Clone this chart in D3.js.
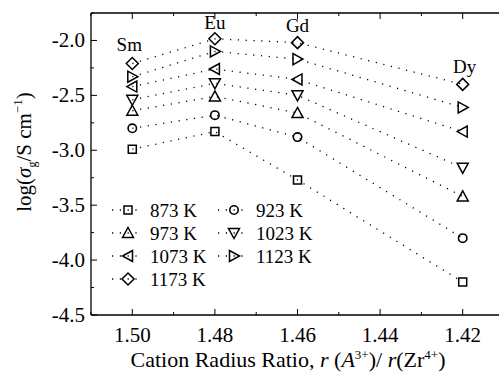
<!DOCTYPE html>
<html>
<head>
<meta charset="utf-8">
<script src="https://cdn.jsdelivr.net/npm/d3@7"></script>
<style>
  body { margin: 0; background: #fff; }
</style>
</head>
<body>
<div class="container"></div>
<script>
const ratios = [1.50, 1.48, 1.46, 1.42];
const cations = ["Sm", "Eu", "Gd", "Dy"];
const temps = ["873 K", "923 K", "973 K", "1023 K", "1073 K", "1123 K", "1173 K"];
const shapes = ["square", "circle", "up", "down", "left", "right", "diamond"];
const v873 = [-2.99, -2.83, -3.27, -4.20];
const v923 = [-2.80, -2.68, -2.88, -3.80];
const v973 = [-2.64, -2.51, -2.66, -3.42];
const v1023 = [-2.54, -2.39, -2.50, -3.16];
const v1073 = [-2.42, -2.26, -2.355, -2.83];
const v1123 = [-2.33, -2.10, -2.17, -2.61];
const v1173 = [-2.21, -1.985, -2.02, -2.40];
const series = [v873, v923, v973, v1023, v1073, v1123, v1173];
const labelY = [-2.10, -1.90, -1.92, -2.30];
const xTicks = [1.50, 1.48, 1.46, 1.44, 1.42];
const yTicks = [-2.0, -2.5, -3.0, -3.5, -4.0, -4.5];

const w = 499, h = 376;
const pLeft = 91, pTop = 13, pBottom = 315, pRight = 504;

const svg = d3.select(".container").append("svg")
  .attr("width", w).attr("height", h)
  .attr("font-family", "'Liberation Serif', 'Times New Roman', Times, 'DejaVu Serif', serif");

const x = d3.scaleLinear().domain([1.51, 1.41]).range([pLeft, pRight]);
const y = d3.scaleLinear().domain([-4.5, -1.75]).range([pBottom, pTop]);

function symbol(g, shape, cx, cy) {
  let p;
  if (shape === "circle") {
    g.append("circle").attr("cx", cx).attr("cy", cy).attr("r", 4.2)
      .attr("fill", "none").attr("stroke", "#000").attr("stroke-width", 1.6);
    return;
  }
  if (shape === "square") p = [[-4, -4], [4, -4], [4, 4], [-4, 4]];
  if (shape === "up") p = [[0, -5.5], [5.5, 4.5], [-5.5, 4.5]];
  if (shape === "down") p = [[0, 5.5], [5.5, -4.5], [-5.5, -4.5]];
  if (shape === "left") p = [[-5.5, 0], [4.5, -5.5], [4.5, 5.5]];
  if (shape === "right") p = [[5.5, 0], [-4.5, -5.5], [-4.5, 5.5]];
  if (shape === "diamond") p = [[0, -6], [6, 0], [0, 6], [-6, 0]];
  g.append("path")
    .attr("d", "M" + p.map(d => (cx + d[0]) + "," + (cy + d[1])).join("L") + "Z")
    .attr("fill", "none").attr("stroke", "#000").attr("stroke-width", 1.5);
}

// frame lines
svg.append("line").attr("x1", pLeft).attr("x2", w).attr("y1", pTop).attr("y2", pTop)
  .attr("stroke", "#000").attr("stroke-width", 1.3);
svg.append("line").attr("x1", pLeft).attr("x2", w).attr("y1", pBottom).attr("y2", pBottom)
  .attr("stroke", "#000").attr("stroke-width", 1.3);
svg.append("line").attr("x1", pLeft).attr("x2", pLeft).attr("y1", pTop).attr("y2", pBottom)
  .attr("stroke", "#000").attr("stroke-width", 1.3);

// ticks (inward), major + minor
const xMinor = d3.range(1.51, 1.405, -0.01);
xMinor.forEach(v => {
  const major = xTicks.some(t => Math.abs(t - v) < 1e-6);
  const len = major ? 6 : 3;
  svg.append("line").attr("x1", x(v)).attr("x2", x(v)).attr("y1", pBottom).attr("y2", pBottom - len)
    .attr("stroke", "#000");
  svg.append("line").attr("x1", x(v)).attr("x2", x(v)).attr("y1", pTop).attr("y2", pTop + len)
    .attr("stroke", "#000");
});
d3.range(-4.5, -1.74, 0.25).forEach(v => {
  const major = yTicks.some(t => Math.abs(t - v) < 1e-6);
  svg.append("line").attr("x1", pLeft).attr("x2", pLeft + (major ? 6 : 3))
    .attr("y1", y(v)).attr("y2", y(v)).attr("stroke", "#000");
});

svg.selectAll(".xt").data(xTicks).enter().append("text")
  .attr("x", d => x(d)).attr("y", pBottom + 27)
  .attr("text-anchor", "middle").attr("font-size", 21)
  .text(d => d.toFixed(2));
svg.selectAll(".yt").data(yTicks).enter().append("text")
  .attr("x", pLeft - 6).attr("y", d => y(d) + 7)
  .attr("text-anchor", "end").attr("font-size", 21)
  .text(d => d.toFixed(1));

// dotted lines and symbols
series.forEach((vals, i) => {
  const line = d3.line().x((d, j) => x(ratios[j])).y(d => y(d));
  svg.append("path").datum(vals).attr("d", line)
    .attr("fill", "none").attr("stroke", "#000").attr("stroke-width", 1.3)
    .attr("stroke-dasharray", "1.2,6.6");
  vals.forEach((v, j) => symbol(svg, shapes[i], x(ratios[j]), y(v)));
});

// cation labels
svg.selectAll(".cl").data(cations).enter().append("text")
  .attr("x", (d, i) => x(ratios[i]) + (i === 0 ? -3 : i === 3 ? 2 : 0))
  .attr("y", (d, i) => y(labelY[i]))
  .attr("text-anchor", "middle").attr("font-size", 19)
  .text(d => d);

// legend
temps.forEach((t, i) => {
  const col = i % 2, row = Math.floor(i / 2);
  const lx = col === 0 ? 112 : 218;
  const ly = 210 + row * 23;
  svg.append("line").attr("x1", lx).attr("x2", lx + 28).attr("y1", ly).attr("y2", ly)
    .attr("stroke", "#000").attr("stroke-width", 1.3).attr("stroke-dasharray", "1.2,6.6");
  symbol(svg, shapes[i], lx + 16, ly);
  svg.append("text").attr("x", lx + 38).attr("y", ly + 7)
    .attr("font-size", 19).text(t);
});

// axis titles
const xt = svg.append("text").attr("x", 288).attr("y", 367)
  .attr("text-anchor", "middle").attr("font-size", 22);
xt.append("tspan").text("Cation Radius Ratio, ");
xt.append("tspan").attr("font-style", "italic").text("r");
xt.append("tspan").text(" (");
xt.append("tspan").attr("font-style", "italic").text("A");
xt.append("tspan").attr("dy", -8).attr("font-size", 13).text("3+");
xt.append("tspan").attr("dy", 8).text(")/ ");
xt.append("tspan").attr("font-style", "italic").text("r");
xt.append("tspan").text("(Zr");
xt.append("tspan").attr("dy", -8).attr("font-size", 13).text("4+");
xt.append("tspan").attr("dy", 8).text(")");

const yt = svg.append("text").attr("transform", "translate(31,152) rotate(-90)")
  .attr("text-anchor", "middle").attr("font-size", 21);
yt.append("tspan").text("log(");
yt.append("tspan").attr("font-style", "italic").text("σ");
yt.append("tspan").attr("dy", 5).attr("font-size", 12).text("g");
yt.append("tspan").attr("dy", -5).text("/S cm");
yt.append("tspan").attr("dy", -9).attr("font-size", 13).text("−1");
yt.append("tspan").attr("dy", 9).text(")");
</script>
</body>
</html>
